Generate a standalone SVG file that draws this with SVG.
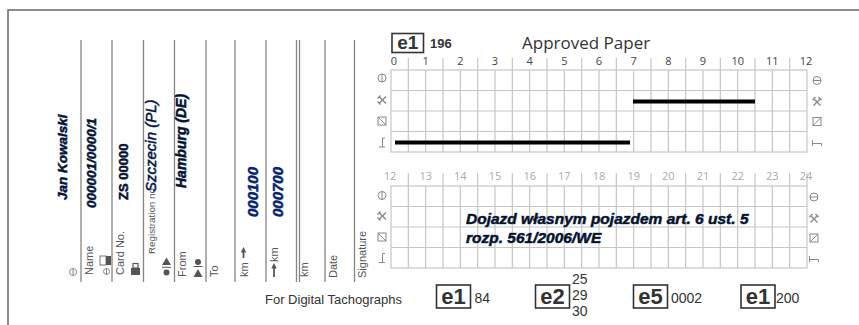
<svg xmlns="http://www.w3.org/2000/svg" width="859" height="325" viewBox="0 0 859 325">
<style>
.frame{fill:none;stroke:#666;stroke-width:1.5}
.col{stroke:#858585;stroke-width:1.3;fill:none}
.grid{stroke:#c6c6c6;stroke-width:1.2;fill:none}
.lbl{font-family:"Liberation Sans",Arial,sans-serif;font-size:11px;fill:#555}
.val{font-family:"Liberation Sans",Arial,sans-serif;font-weight:bold;font-style:italic;fill:#111;stroke:#2f5fc0;stroke-width:0.7;paint-order:stroke}
.hr{font-family:"Open Sans","Liberation Sans",sans-serif;font-size:11px;fill:#444;text-anchor:middle}
.hr2{font-family:"Open Sans","Liberation Sans",sans-serif;font-size:11px;fill:#aaa;text-anchor:middle}
.ico{fill:none;stroke:#888;stroke-width:1}
.icf{fill:#555;stroke:none}
.bar{stroke:#000;stroke-width:4;fill:none}
.ebox{fill:none;stroke:#333;stroke-width:1.6}
.et{font-family:"Liberation Sans",Arial,sans-serif;font-weight:bold;fill:#333;text-anchor:middle}
.num{font-family:"Liberation Sans",Arial,sans-serif;font-size:14px;fill:#333}
.note{font-family:"Liberation Sans",Arial,sans-serif;font-weight:bold;font-style:italic;font-size:15.5px;fill:#111;stroke:#2f5fc0;stroke-width:0.7;paint-order:stroke}
</style>
<defs>
<g id="i-av"><circle r="4" class="ico"/><path d="M-4 0H4" class="ico"/></g>
<g id="i-wk"><path d="M-3.5 4L3 -2.5M3.5 4L-3 -2.5M-4.5 -1.5L-1.5 -4.5M4.5 -1.5L1.5 -4.5" stroke="#888" stroke-width="1.4" fill="none"/></g>
<g id="i-bx"><rect x="-4" y="-4" width="8" height="8" class="ico"/><path d="M-4 4L4 -4" class="ico"/></g>
<g id="i-rs"><path d="M-4.5 -3V3M-4.5 0.5H4.5V3" class="ico" stroke-width="1.3"/></g>
</defs>

<path class="frame" d="M8 325V10H859"/>

<g id="form-columns">
<path class="col" d="M81 40V282M112 40V282M143.5 40V282M174.5 40V282M206 40V282M235 40V282M266 40V282M296.5 40V282M299.5 40V282M325 40V282M354.5 40V282"/>
</g>

<g id="form-labels">
<g transform="translate(73,272)"><circle r="3.5" class="ico"/><path d="M0 -3.5V3.5" class="ico"/></g>
<text class="lbl" transform="translate(92.5,275) rotate(-90)">Name</text>
<rect x="100" y="256" width="6" height="9" fill="#fff" stroke="#777" stroke-width="1"/>
<rect x="106" y="256" width="5" height="9" class="icf"/>
<circle cx="106.5" cy="271.5" r="3" class="ico"/><path d="M106.5 268.5V274.5" class="ico"/>
<text class="lbl" transform="translate(124,275) rotate(-90)">Card No.</text>
<rect x="131" y="268" width="9" height="7" class="icf"/>
<rect x="133" y="263.5" width="5" height="4.5" fill="none" stroke="#555" stroke-width="1.2"/>
<text class="lbl" style="font-size:9.8px" transform="translate(155,254) rotate(-90)">Registration no.</text>
<path class="icf" d="M166.5 257.5L162 265H171Z"/>
<path d="M162 267.3H171" stroke="#555" stroke-width="1"/>
<circle cx="166.5" cy="272.5" r="3" class="icf"/>
<text class="lbl" transform="translate(186,277) rotate(-90)">From</text>
<circle cx="198" cy="262" r="3" class="icf"/>
<path d="M193.5 266.5H202.5" stroke="#555" stroke-width="1"/>
<path class="icf" d="M198 269L193.5 277H202.5Z"/>
<text class="lbl" transform="translate(218,277) rotate(-90)">To</text>
<text class="lbl" transform="translate(248,277) rotate(-90)">km</text>
<path d="M243.5 258V251" stroke="#444" stroke-width="1.6"/>
<path class="icf" d="M243.5 247L240.8 252.5H246.2Z"/>
<text class="lbl" transform="translate(278,262) rotate(-90)">km</text>
<path d="M274 277V267" stroke="#444" stroke-width="1.6"/>
<path class="icf" d="M274 263L271.3 268.5H276.7Z"/>
<text class="lbl" transform="translate(308,277) rotate(-90)">km</text>
<text class="lbl" transform="translate(337,278) rotate(-90)">Date</text>
<text class="lbl" transform="translate(365.5,278) rotate(-90)">Signature</text>
</g>

<g id="form-values">
<text class="val" font-size="13.5" transform="translate(67,200) rotate(-90)">Jan Kowalski</text>
<text class="val" font-size="13.5" transform="translate(96,208) rotate(-90)">000001/0000/1</text>
<text class="val" font-size="13" style="font-style:normal" transform="translate(128,200) rotate(-90)">ZS 00000</text>
<text class="val" font-size="15" style="font-weight:normal" transform="translate(156,192) rotate(-90)">Szczecin (PL)</text>
<text class="val" font-size="14" transform="translate(185.5,188) rotate(-90)">Hamburg (DE)</text>
<text class="val" font-size="15" style="fill:#102060;stroke:#3a70d0" transform="translate(258,217) rotate(-90)">000100</text>
<text class="val" font-size="15" style="fill:#102060;stroke:#3a70d0" transform="translate(283,217) rotate(-90)">000700</text>
</g>

<g id="header">
<rect x="392" y="33.5" width="31.5" height="19" class="ebox"/>
<text x="407.7" y="49" font-size="19" class="et">e1</text>
<text x="430" y="48" font-family="Liberation Sans, Arial, sans-serif" font-size="13" font-weight="bold" fill="#333">196</text>
<text x="522" y="48.5" font-family="Open Sans, Liberation Sans, sans-serif" font-size="17" fill="#333">Approved Paper</text>
</g>

<g id="chart-top">
<rect x="391" y="70" width="416" height="82" class="grid"/>
<path class="grid" d="M391 90.5H807M391 111H807M391 131.5H807
M408.33 58V152M425.67 70V152M443 58V152M460.33 70V152M477.67 58V152M495 70V152M512.33 58V152M529.67 70V152M547 58V152M564.33 70V152M581.67 58V152M599 70V152
M616.33 58V152M633.67 70V152M651 58V152M668.33 70V152M685.67 58V152M703 70V152M720.33 58V152M737.67 70V152M755 58V152M772.33 70V152M789.67 58V152"/>
<text class="hr" x="394" y="65">0</text>
<text class="hr" x="425.7" y="65">1</text>
<text class="hr" x="460.3" y="65">2</text>
<text class="hr" x="495" y="65">3</text>
<text class="hr" x="529.7" y="65">4</text>
<text class="hr" x="564.3" y="65">5</text>
<text class="hr" x="599" y="65">6</text>
<text class="hr" x="633.7" y="65">7</text>
<text class="hr" x="668.3" y="65">8</text>
<text class="hr" x="703" y="65">9</text>
<text class="hr" x="737.7" y="65">10</text>
<text class="hr" x="772.3" y="65">11</text>
<text class="hr" x="806" y="65">12</text>
<use href="#i-av" transform="translate(382,78) rotate(-90)"/>
<use href="#i-wk" transform="translate(382,100) rotate(-90)"/>
<use href="#i-bx" transform="translate(382,121) rotate(-90)"/>
<use href="#i-rs" transform="translate(382,142.5) rotate(-90)"/>
<use href="#i-av" transform="translate(817,80.5)"/>
<use href="#i-wk" transform="translate(817,101.5)"/>
<use href="#i-bx" transform="translate(817,121.5)"/>
<use href="#i-rs" transform="translate(817,143)"/>
<path class="bar" d="M395 142.5H630"/>
<path class="bar" d="M633 101.5H755"/>
</g>

<g id="chart-bottom">
<rect x="391" y="186" width="416" height="82" class="grid"/>
<path class="grid" d="M391 206.5H807M391 227H807M391 247.5H807
M408.33 173V268M425.67 186V268M443 173V268M460.33 186V268M477.67 173V268M495 186V268M512.33 173V268M529.67 186V268M547 173V268M564.33 186V268M581.67 173V268M599 186V268
M616.33 173V268M633.67 186V268M651 173V268M668.33 186V268M685.67 173V268M703 186V268M720.33 173V268M737.67 186V268M755 173V268M772.33 186V268M789.67 173V268M807 173V186"/>
<text class="hr2" x="390" y="180">12</text>
<text class="hr2" x="425.7" y="180">13</text>
<text class="hr2" x="460.3" y="180">14</text>
<text class="hr2" x="495" y="180">15</text>
<text class="hr2" x="529.7" y="180">16</text>
<text class="hr2" x="564.3" y="180">17</text>
<text class="hr2" x="599" y="180">18</text>
<text class="hr2" x="633.7" y="180">19</text>
<text class="hr2" x="668.3" y="180">20</text>
<text class="hr2" x="703" y="180">21</text>
<text class="hr2" x="737.7" y="180">22</text>
<text class="hr2" x="772.3" y="180">23</text>
<text class="hr2" x="806" y="180">24</text>
<use href="#i-av" transform="translate(382,195.5) rotate(-90)"/>
<use href="#i-wk" transform="translate(382,216) rotate(-90)"/>
<use href="#i-bx" transform="translate(382,237) rotate(-90)"/>
<use href="#i-rs" transform="translate(382,258) rotate(-90)"/>
<use href="#i-av" transform="translate(814,197)"/>
<use href="#i-wk" transform="translate(814,218.5)"/>
<use href="#i-bx" transform="translate(814,238)"/>
<use href="#i-rs" transform="translate(814,259)"/>
<text class="note" x="466" y="224">Dojazd własnym pojazdem art. 6 ust. 5</text>
<text class="note" x="466" y="243">rozp. 561/2006/WE</text>
</g>

<g id="footer">
<text x="265" y="304" font-family="Liberation Sans, Arial, sans-serif" font-size="13" fill="#333">For Digital Tachographs</text>
<rect x="436.5" y="285" width="34" height="23" class="ebox"/>
<text x="453.5" y="304" font-size="22" class="et">e1</text>
<text x="474.5" y="303" class="num">84</text>
<rect x="535.5" y="285" width="34" height="23" class="ebox"/>
<text x="552.5" y="304" font-size="22" class="et">e2</text>
<text x="572" y="284" class="num">25</text>
<text x="572" y="300" class="num">29</text>
<text x="572" y="316" class="num">30</text>
<rect x="633.5" y="285" width="34" height="23" class="ebox"/>
<text x="650.5" y="304" font-size="22" class="et">e5</text>
<text x="671" y="303" class="num">0002</text>
<rect x="741" y="285" width="34" height="23" class="ebox"/>
<text x="758" y="304" font-size="22" class="et">e1</text>
<text x="776" y="303" class="num">200</text>
</g>
</svg>
